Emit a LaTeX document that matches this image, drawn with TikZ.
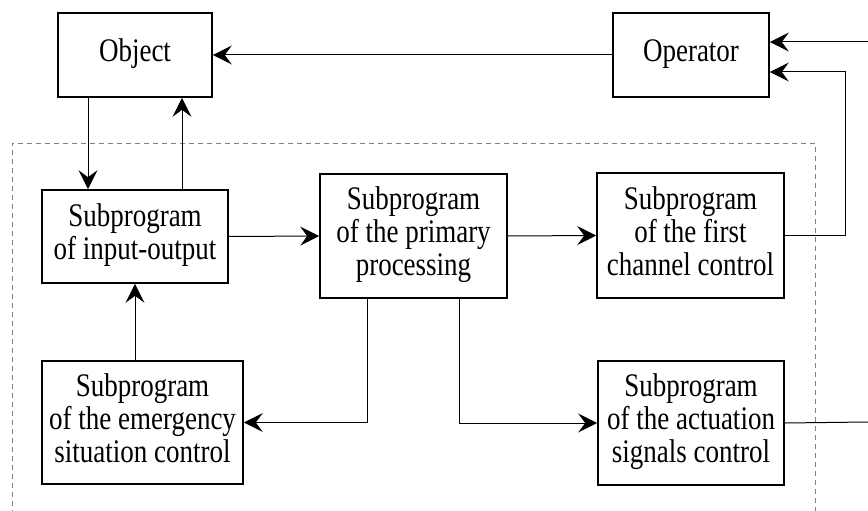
\documentclass[tikz,border=0pt]{standalone}
\usepackage{graphicx}
\usepackage{fontspec}
\setmainfont{Liberation Serif}
\usetikzlibrary{arrows.meta, positioning}

% text of the boxes is set a bit taller than wide
\newcommand{\blocktext}[1]{\scalebox{1}[1.22]{\fontsize{27}{27}\selectfont
  \begin{tabular}{@{}c@{}}#1\end{tabular}}}

\tikzset{
  block/.style={draw, line width=1.6pt, inner sep=0pt},
  link/.style={line width=1pt, ->},
  frame/.style={gray, line width=1pt, dash pattern=on 5pt off 4pt}
}

\begin{document}
\begin{tikzpicture}[x=1pt, y=-1pt, >={Stealth[length=19pt, width=19pt, inset=7pt]}]
  \useasboundingbox (0,0) rectangle (868,511);
  % blocks
  \node[block, minimum width=154pt, minimum height=84pt] (object) at (135,55) {\blocktext{Object}};
  \node[block, minimum width=156pt, minimum height=84pt] (operator) at (691,55) {\blocktext{Operator}};
  \node[block, minimum width=186pt, minimum height=93pt] (inout) at (135,236.5) {\blocktext{Subprogram\\of input-output}};
  \node[block, minimum width=187pt, minimum height=124pt] (primary) at (413.5,236) {\blocktext{Subprogram\\of the primary\\processing}};
  \node[block, minimum width=187pt, minimum height=125pt] (firstch) at (690.5,235.5) {\blocktext{Subprogram\\of the first\\channel control}};
  \node[block, minimum width=201pt, minimum height=123pt] (emerg) at (142.5,422.5) {\blocktext{Subprogram\\of the emergency\\situation control}};
  \node[block, minimum width=186pt, minimum height=124pt] (actuat) at (691,423) {\blocktext{Subprogram\\of the actuation\\signals control}};
  \coordinate (in1) at (868,42);
  \coordinate (out1) at (868,422);

  % program boundary
  \draw[frame] (12,515) -- (12,143) -- (815,143) -- (815,515);

  % connections
  \draw[link] (operator.west) -- (object.east);
  \draw[link] ([xshift=-47pt]object.south) -- ([xshift=-47pt]inout.north);
  \draw[link] ([xshift=47pt]inout.north) -- ([xshift=47pt]object.south);
  \draw[link] (inout.east) -- (primary.west);
  \draw[link] (primary.east) -- (firstch.west);
  \draw[link] (emerg.north -| inout.south) -- (inout.south);
  \draw[link] ([xshift=-46pt]primary.south) |- (emerg.east);
  \draw[link] ([xshift=46pt]primary.south) |- (actuat.west);
  \draw[link] (firstch.east) -- ++(61,0) |- ([yshift=-17pt]operator.east);
  \draw[link] (in1) -- (in1 -| operator.east);
  \draw[line width=1pt] (actuat.east) -- (out1);
\end{tikzpicture}
\end{document}
